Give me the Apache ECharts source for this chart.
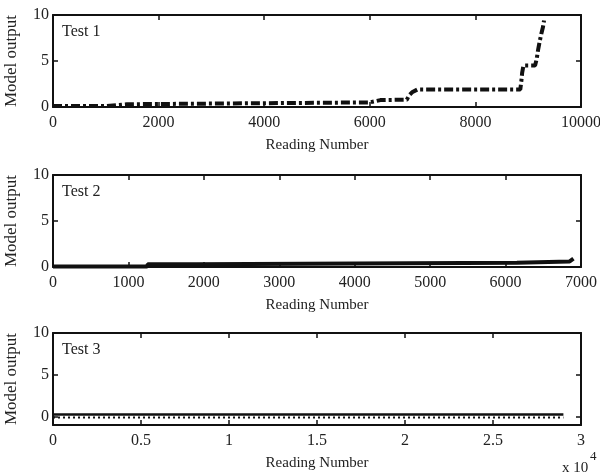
<!DOCTYPE html>
<html>
<head>
<meta charset="utf-8">
<script src="https://cdn.jsdelivr.net/npm/echarts@6/dist/echarts.min.js"></script>
<style>html,body{margin:0;padding:0;background:#fff}#c{width:600px;height:476px}</style>
</head>
<body>
<div id="c"></div>
<script>
// ---- data ----
const panelTitles = ['Test 1', 'Test 2', 'Test 3'];
const xMaxes = [10000, 7000, 30000];
const xIntervals = [2000, 1000, 5000];
const yMins = [0, 0, -1];
const yTicks = [0, 5, 10];

const test1X = [0, 1000, 1010, 1400, 1420, 6000, 6020, 6200, 6700, 6750, 6800, 6900, 8850, 8870, 8885, 8910, 9130, 9160, 9190, 9220, 9250, 9280, 9300];
const test1Y = [0.1, 0.1, 0.3, 0.3, 0.5, 0.5, 0.6, 0.75, 0.8, 1.3, 1.6, 1.9, 1.9, 2.8, 3.7, 4.5, 4.5, 5.2, 6.3, 7.2, 8.0, 8.7, 9.4];

const test2X = [0, 1250, 1255, 1900, 1905, 6150, 6155, 6850, 6870, 6900];
const test2Y = [0.05, 0.05, 0.3, 0.3, 0.45, 0.45, 0.6, 0.6, 0.8, 0.9];

const test3X = [0, 5000, 10000, 15000, 20000, 25000, 29000];
const test3Ysolid = [0.25, 0.25, 0.25, 0.25, 0.25, 0.25, 0.25];
const test3Ydots = [-0.1, -0.1, -0.1, -0.1, -0.1, -0.1, -0.1];

const xLabelFmt = [v => String(v), v => String(v), v => String(v / 10000)];

// ---- layout ----
const gridTops = [15, 175, 333];
const gridHeight = 92;
const FONT = 'Liberation Serif';
const TXT = '#222';

function pairs(xs, ys) { return xs.map((x, i) => [x, ys[i]]); }

const grids = [], xAxes = [], yAxes = [], series = [], graphics = [];
for (let p = 0; p < 3; p++) {
  grids.push({ left: 53, right: 19, top: gridTops[p], height: gridHeight, containLabel: false, outerBoundsMode: 'none' });
  const axLine = { show: true, onZero: false, lineStyle: { color: '#111', width: 2 } };
  const tick = { show: true, inside: true, length: 5, lineStyle: { color: '#111', width: 1.5 } };
  xAxes.push({
    type: 'value', gridIndex: p, position: 'bottom', min: 0, max: xMaxes[p], interval: xIntervals[p],
    axisLine: axLine, axisTick: tick, splitLine: { show: false },
    axisLabel: { color: TXT, fontFamily: FONT, fontSize: 16, margin: 8, formatter: xLabelFmt[p] },
    name: 'Reading Number', nameLocation: 'middle', nameGap: 31,
    nameTextStyle: { color: TXT, fontFamily: FONT, fontSize: 15 }
  });
  xAxes.push({
    type: 'value', gridIndex: p, position: 'top', min: 0, max: xMaxes[p], interval: xIntervals[p],
    axisLine: axLine, axisTick: tick, splitLine: { show: false }, axisLabel: { show: false }
  });
  yAxes.push({
    type: 'value', gridIndex: p, position: 'left', min: yMins[p], max: 10,
    axisLine: axLine, axisTick: { show: true, inside: true, length: 5, lineStyle: { color: '#111', width: 1.5 },
      customValues: yTicks },
    axisLabel: { color: TXT, fontFamily: FONT, fontSize: 16, margin: 4, customValues: yTicks },
    splitLine: { show: false },
    name: 'Model output', nameLocation: 'middle', nameGap: 33, nameRotate: 90,
    nameTextStyle: { color: TXT, fontFamily: FONT, fontSize: 17 }
  });
  yAxes.push({
    type: 'value', gridIndex: p, position: 'right', min: yMins[p], max: 10,
    axisLine: axLine, axisTick: { show: true, inside: true, length: 5, lineStyle: { color: '#111', width: 1.5 },
      customValues: yTicks },
    axisLabel: { show: false }, splitLine: { show: false }
  });
  graphics.push({
    type: 'text', left: 62, top: gridTops[p] + 9,
    style: { text: panelTitles[p], fill: TXT, font: '16px "Liberation Serif"' }
  });
}

series.push({
  type: 'line', xAxisIndex: 0, yAxisIndex: 0, data: pairs(test1X, test1Y), showSymbol: false,
  lineStyle: { color: '#111', width: 4, type: [9, 3, 3, 3] }
});
series.push({
  type: 'line', xAxisIndex: 2, yAxisIndex: 2, data: pairs(test2X, test2Y), showSymbol: false,
  lineStyle: { color: '#111', width: 4 }
});
series.push({
  type: 'line', xAxisIndex: 4, yAxisIndex: 4, data: pairs(test3X, test3Ysolid), showSymbol: false,
  lineStyle: { color: '#111', width: 2.5 }
});
series.push({
  type: 'line', xAxisIndex: 4, yAxisIndex: 4, data: pairs(test3X, test3Ydots), showSymbol: false,
  lineStyle: { color: '#111', width: 2, type: [2, 3] }
});

graphics.push({
  type: 'text', left: 562, top: 461,
  style: { text: 'x 10', fill: TXT, font: '15px "Liberation Serif"' }
});
graphics.push({
  type: 'text', left: 590, top: 450,
  style: { text: '4', fill: TXT, font: '13px "Liberation Serif"' }
});

const chart = echarts.init(document.getElementById('c'), null, { renderer: 'canvas' });
chart.setOption({
  animation: false,
  backgroundColor: '#fff',
  grid: grids, xAxis: xAxes, yAxis: yAxes, series: series, graphic: graphics
});
</script>
</body>
</html>
